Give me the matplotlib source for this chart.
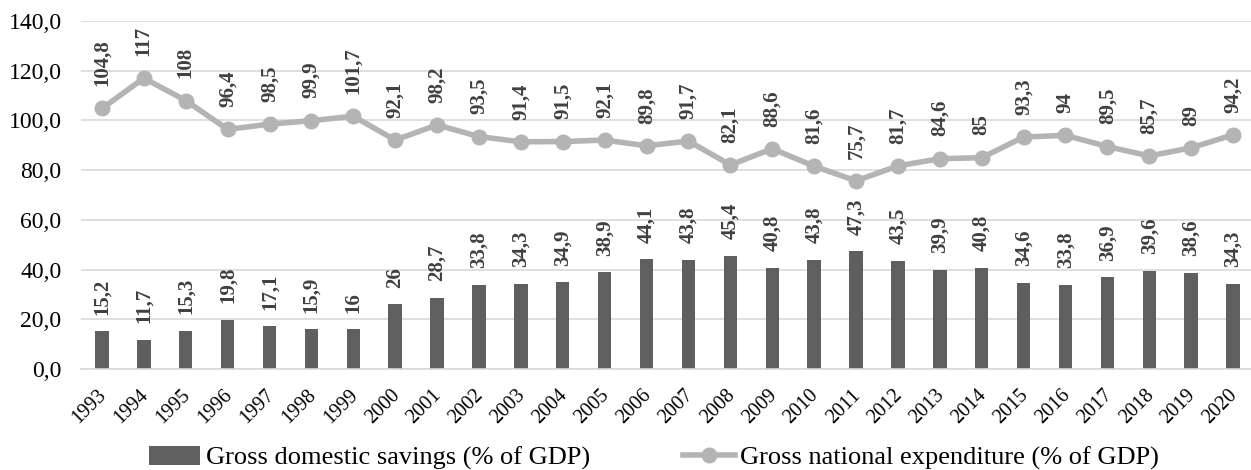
import matplotlib
matplotlib.use("Agg")
import matplotlib.pyplot as plt
import matplotlib.transforms as mtransforms
from matplotlib.ticker import FuncFormatter, MultipleLocator

years = [str(y) for y in range(1993, 2021)]
savings = [15.2, 11.7, 15.3, 19.8, 17.1, 15.9, 16, 26, 28.7, 33.8, 34.3, 34.9, 38.9, 44.1,
           43.8, 45.4, 40.8, 43.8, 47.3, 43.5, 39.9, 40.8, 34.6, 33.8, 36.9, 39.6, 38.6, 34.3]
expenditure = [104.8, 117, 108, 96.4, 98.5, 99.9, 101.7, 92.1, 98.2, 93.5, 91.4, 91.5, 92.1, 89.8,
               91.7, 82.1, 88.6, 81.6, 75.7, 81.7, 84.6, 85, 93.3, 94, 89.5, 85.7, 89, 94.2]

plt.rcParams['font.family'] = ['Liberation Serif', 'DejaVu Serif']

BAR = '#5f5f5f'
LINE = '#b4b4b4'
LABEL = '#404040'

def fmt_num(v):
    return f"{v:g}".replace('.', ',')

fig = plt.figure(figsize=(12.51, 4.70), dpi=100)
ax = fig.add_axes([81 / 1251, 1 - 369 / 470, (1254 - 81) / 1251, (369 - 21) / 470])

x = list(range(len(years)))
bars = ax.bar(x, savings, width=0.32, color=BAR, zorder=2)
line, = ax.plot(x, expenditure, color=LINE, lw=4, marker='o', ms=10.5, zorder=3)

# Rotated value labels above each bar and each point
for xi, v in zip(x, savings):
    ax.annotate(fmt_num(v), (xi, v), xytext=(0, 12), textcoords='offset points',
                rotation=90, ha='center', va='bottom', fontsize=15, fontweight='bold', color=LABEL)
for xi, v in zip(x, expenditure):
    ax.annotate(fmt_num(v), (xi, v), xytext=(0, 16), textcoords='offset points',
                rotation=90, ha='center', va='bottom', fontsize=15, fontweight='bold', color=LABEL,
                annotation_clip=False)

ax.set_xlim(-0.5, len(years) - 0.5)
ax.set_ylim(0, 140)
ax.yaxis.set_major_locator(MultipleLocator(20))
ax.yaxis.set_major_formatter(FuncFormatter(lambda v, p: f"{v:.1f}".replace('.', ',')))
ax.grid(axis='y', color='#d9d9d9', lw=1.2, zorder=0)
ax.set_axisbelow(True)
for s in ['top', 'right', 'left']:
    ax.spines[s].set_visible(False)
ax.spines['bottom'].set_color('#d9d9d9')
ax.spines['bottom'].set_linewidth(1.2)
ax.tick_params(axis='both', length=0, colors='black')
ax.tick_params(axis='y', labelsize=17, pad=14)
ax.set_xticks(x)
ax.set_xticklabels(years, rotation=45, ha='right', rotation_mode='anchor', fontsize=14.5)
ax.tick_params(axis='x', pad=12)
shift = mtransforms.ScaledTranslation(-5 / 100, 0, fig.dpi_scale_trans)
for lbl in ax.get_xticklabels():
    lbl.set_transform(lbl.get_transform() + shift)

fig.legend([bars, line], ['Gross domestic savings (% of GDP)', 'Gross national expenditure (% of GDP)'],
           loc='lower center', bbox_to_anchor=(0.5228, 0.0), ncol=2, frameon=False,
           borderpad=0, borderaxespad=0,
           fontsize=19, handlelength=1.95, handletextpad=0.2, columnspacing=3.55)

fig.savefig('out.png', dpi=100)
